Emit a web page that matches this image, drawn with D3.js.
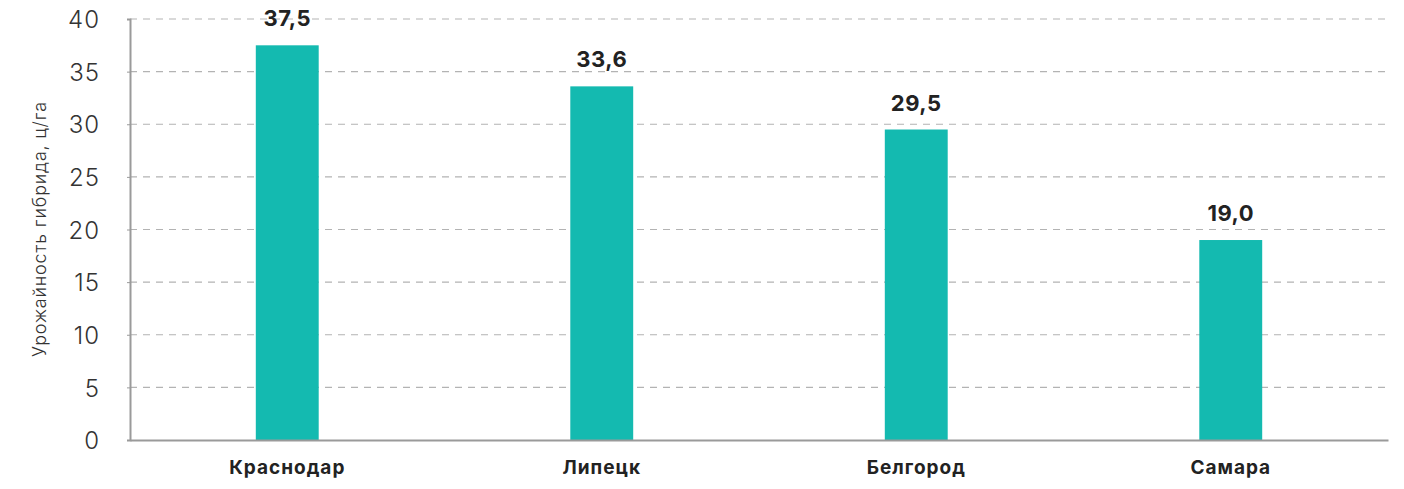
<!DOCTYPE html>
<html><head><meta charset="utf-8">
<script src="https://cdn.jsdelivr.net/npm/d3@7"></script>
<style>
html,body{margin:0;padding:0;background:#fff;}
svg{display:block;}
</style></head>
<body>
<svg id="chart" width="1404" height="489"></svg>
<script>
const categories = ["Краснодар", "Липецк", "Белгород", "Самара"];
const values = [37.5, 33.6, 29.5, 19.0];
const valueLabels = ["37,5", "33,6", "29,5", "19,0"];
const yTicks = [0, 5, 10, 15, 20, 25, 30, 35, 40];
const yTitle = "Урожайность гибрида, ц/га";

(function () {
const svg = d3.select("#chart");
const mLeft = 130, mRight = 1388, mTop = 19, mBottom = 440;
const FONT = "Inter, 'Open Sans', sans-serif";

const x = d3.scaleBand().domain(categories).range([mLeft, mRight]).paddingInner(0.8).paddingOuter(0.4);
const y = d3.scaleLinear().domain([0, 40]).range([mBottom, mTop]);

// gridlines
svg.append("g").selectAll("line").data(yTicks.filter(d => d > 0)).join("line")
  .attr("x1", mLeft).attr("x2", mRight)
  .attr("y1", d => y(d)).attr("y2", d => y(d))
  .attr("stroke", "#b3b3b3").attr("stroke-width", 1.2)
  .attr("stroke-dasharray", "7,6");

// y axis
const yAxis = svg.append("g").attr("transform", `translate(${mLeft},0)`)
  .call(d3.axisLeft(y).tickValues(yTicks).tickSize(3).tickPadding(27));
yAxis.select(".domain").attr("stroke", "#9a9a9a").attr("stroke-width", 2);
yAxis.selectAll(".tick line").attr("stroke", "#9a9a9a");
yAxis.selectAll(".tick text")
  .attr("font-family", FONT).attr("dy", "0.36em")
  .attr("font-weight", 300).attr("font-size", 24).attr("fill", "#333")
  .attr("letter-spacing", 1);

// bars
svg.append("g").selectAll("rect").data(values).join("rect")
  .attr("x", (d, i) => x(categories[i]))
  .attr("width", x.bandwidth())
  .attr("y", d => y(d))
  .attr("height", d => y(0) - y(d))
  .attr("fill", "#14bab0");

// x axis
const xAxis = svg.append("g").attr("transform", `translate(0,${mBottom})`)
  .call(d3.axisBottom(x).tickSize(0).tickPadding(21));
xAxis.select(".domain").attr("stroke", "#9a9a9a").attr("stroke-width", 2);
xAxis.selectAll(".tick text")
  .attr("font-family", FONT)
  .attr("font-weight", 700).attr("font-size", 19).attr("fill", "#222")
  .attr("letter-spacing", 1);

// value labels
svg.append("g").selectAll("text").data(values).join("text")
  .attr("x", (d, i) => x(categories[i]) + x.bandwidth() / 2)
  .attr("y", d => y(d) - 19)
  .attr("text-anchor", "middle")
  .attr("font-family", FONT)
  .attr("font-weight", 700).attr("font-size", 22).attr("fill", "#222")
  .attr("letter-spacing", 0.5)
  .text((d, i) => valueLabels[i]);

// y title
svg.append("text")
  .attr("transform", `translate(46,229) rotate(-90)`)
  .attr("text-anchor", "middle")
  .attr("font-family", FONT)
  .attr("font-weight", 300).attr("font-size", 18).attr("fill", "#333")
  .attr("letter-spacing", 0.8)
  .text(yTitle);
})();
</script>
</body></html>
